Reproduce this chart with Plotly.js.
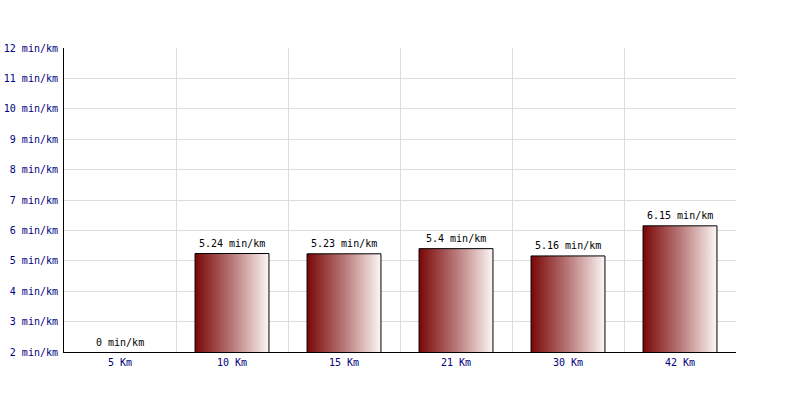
<!DOCTYPE html>
<html>
<head>
<meta charset="utf-8">
<script src="https://cdn.plot.ly/plotly-3.0.1.min.js"></script>
<style>html,body{margin:0;padding:0;background:#fff;}#chart{width:800px;height:400px;}</style>
</head>
<body>
<div id="chart"></div>
<script>
var categories = ["5 Km", "10 Km", "15 Km", "21 Km", "30 Km", "42 Km"];
var paces = [0, 5.24, 5.23, 5.4, 5.16, 6.15];
var tickValues = [2, 3, 4, 5, 6, 7, 8, 9, 10, 11, 12];
var tickLabels = tickValues.map(function (v) { return v + " min/km"; });
var paceLabels = paces.map(function (v) { return v + " min/km"; });

var yMin = 2, yMax = 12;
var FONT = "DejaVu Sans Mono, monospace";

var bars = {
  type: "bar",
  x: categories,
  y: paces,
  width: 0.66,
  marker: { color: "#9a3030", line: { color: "#000000", width: 1 } },
  hoverinfo: "skip",
  showlegend: false
};

var annotations = categories.map(function (c, i) {
  return {
    x: c,
    y: Math.max(paces[i], yMin),
    xref: "x",
    yref: "y",
    text: paceLabels[i],
    showarrow: false,
    yanchor: "middle",
    xanchor: "center",
    yshift: 10,
    font: { family: FONT, size: 10, color: "#000000" }
  };
});

var layout = {
  width: 800,
  height: 400,
  margin: { l: 64, r: 64, t: 48, b: 48, pad: 0 },
  paper_bgcolor: "#ffffff",
  plot_bgcolor: "#ffffff",
  font: { family: FONT, size: 10, color: "#000080" },
  xaxis: {
    type: "category",
    tickson: "boundaries",
    showgrid: true,
    gridcolor: "#dddddd",
    gridwidth: 1,
    showline: true,
    linecolor: "#000000",
    linewidth: 1,
    ticks: "",
    ticklabelstandoff: 1,
    tickfont: { family: FONT, size: 10, color: "#000080" },
    zeroline: false,
    fixedrange: true
  },
  yaxis: {
    range: [yMin, yMax],
    tickvals: tickValues,
    ticktext: tickLabels,
    showgrid: true,
    gridcolor: "#dddddd",
    gridwidth: 1,
    showline: true,
    linecolor: "#000000",
    linewidth: 1,
    ticks: "",
    ticklabelstandoff: 3,
    tickfont: { family: FONT, size: 10, color: "#000080" },
    zeroline: false,
    fixedrange: true
  },
  annotations: annotations,
  bargap: 0.34
};

Plotly.newPlot("chart", [bars], layout, { displayModeBar: false, staticPlot: true }).then(function (gd) {
  var svgNS = "http://www.w3.org/2000/svg";
  var svg = gd.querySelector(".main-svg");
  var defs = svg.querySelector("defs") || svg.insertBefore(document.createElementNS(svgNS, "defs"), svg.firstChild);
  var grad = document.createElementNS(svgNS, "linearGradient");
  grad.setAttribute("id", "barGrad");
  grad.setAttribute("x1", "0"); grad.setAttribute("y1", "0");
  grad.setAttribute("x2", "1"); grad.setAttribute("y2", "0");
  [["0", "#7a0606"], ["0.5", "#b87878"], ["1", "#fdf6f6"]].forEach(function (s) {
    var st = document.createElementNS(svgNS, "stop");
    st.setAttribute("offset", s[0]);
    st.setAttribute("stop-color", s[1]);
    grad.appendChild(st);
  });
  defs.appendChild(grad);
  gd.querySelectorAll(".trace.bars .point path").forEach(function (p) {
    p.style.fill = "url(#barGrad)";
    p.style.fillOpacity = "1";
  });
});
</script>
</body>
</html>
